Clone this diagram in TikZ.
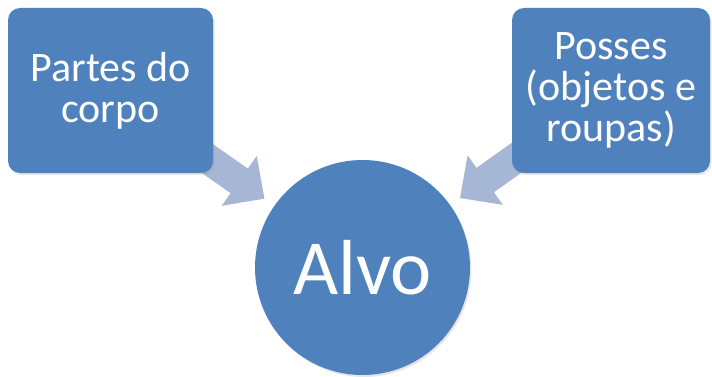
\documentclass[tikz,border=0pt]{standalone}
\usepackage{fontspec}
\setmainfont{Carlito}
\usetikzlibrary{arrows.meta,shadows,backgrounds}
\definecolor{boxblue}{RGB}{79,129,189}
\definecolor{arrowblue}{RGB}{166,183,214}
\tikzset{
  box/.style={fill=boxblue, rounded corners=12pt, minimum width=205pt, minimum height=165pt,
    text=white, align=center, font=\fontsize{42}{41}\selectfont,
    drop shadow={opacity=0.2, shadow xshift=1.5pt, shadow yshift=-2pt}},
  hub/.style={circle, fill=boxblue, minimum size=215pt, inner sep=0pt, text=white,
    font=\fontsize{78}{78}\selectfont,
    drop shadow={opacity=0.2, shadow xshift=1.5pt, shadow yshift=-2pt}},
  flowarrow/.style={draw=arrowblue, line width=30pt, -{Triangle[length=31pt,width=59pt]},
    shorten >=12pt}
}
\begin{document}
\begin{tikzpicture}[x=1pt, y=-1pt]
\useasboundingbox (0,0) rectangle (712,377);
\node[box] (parts) at (110.5,90.5) {Partes do\\corpo};
\node[box, minimum width=198pt] (posses) at (611,90.5) {Posses\\(objetos e\\roupas)};
\node[hub] (alvo) at (362.5,267.5) {Alvo};
\begin{scope}[on background layer]
\draw[flowarrow] (parts.center) -- (alvo);
\draw[flowarrow] (posses.center) -- (alvo);
\end{scope}
\end{tikzpicture}
\end{document}
